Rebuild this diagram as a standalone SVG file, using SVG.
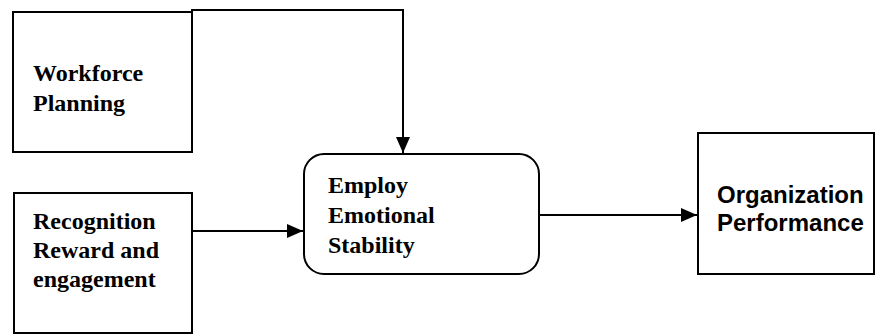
<svg xmlns="http://www.w3.org/2000/svg" width="876" height="335" viewBox="0 0 876 335">
<style>
.box{fill:#fff;stroke:#000;stroke-width:2}
.ser{font-family:"Liberation Serif","Times New Roman",serif;font-weight:bold;font-size:24px;fill:#000}
.sans{font-family:"Liberation Sans",Arial,sans-serif;font-weight:bold;font-size:24px;fill:#000}
.con{fill:none;stroke:#000;stroke-width:2}
</style>
<defs>
<marker id="arr" markerUnits="userSpaceOnUse" markerWidth="16" markerHeight="14" viewBox="0 0 16 14" refX="16" refY="7" orient="auto">
<path d="M0,0 L16,7 L0,14 Z" fill="#000"/>
</marker>
</defs>
<g id="workforce">
<rect class="box" x="13" y="12" width="179" height="140"/>
<text class="ser" x="33" y="81">Workforce</text>
<text class="ser" x="33" y="111">Planning</text>
</g>
<g id="recognition">
<rect class="box" x="14" y="193" width="178" height="140"/>
<text class="ser" x="33" y="229">Recognition</text>
<text class="ser" x="33" y="258">Reward and</text>
<text class="ser" x="33" y="287">engagement</text>
</g>
<g id="employ">
<rect class="box" x="304" y="154" width="235" height="120" rx="20" ry="20"/>
<text class="ser" x="328" y="193">Employ</text>
<text class="ser" x="328" y="223">Emotional</text>
<text class="ser" x="328" y="253">Stability</text>
</g>
<g id="performance">
<rect class="box" x="698" y="133" width="176" height="141"/>
<text class="sans" x="717" y="203">Organization</text>
<text class="sans" x="717" y="231">Performance</text>
</g>
<g id="connectors">
<polyline class="con" points="192,12 192,10 403,10 403,153" marker-end="url(#arr)"/>
<line class="con" x1="192" y1="231" x2="303" y2="231" marker-end="url(#arr)"/>
<line class="con" x1="539" y1="215" x2="697" y2="215" marker-end="url(#arr)"/>
</g>
</svg>
